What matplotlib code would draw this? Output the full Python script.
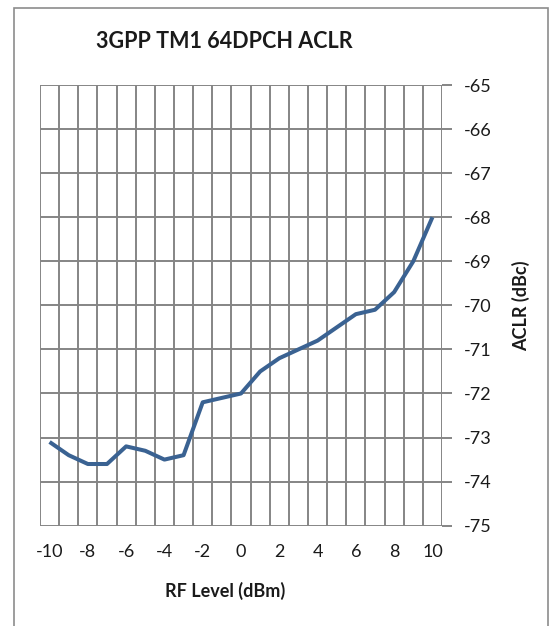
import matplotlib.pyplot as plt
from matplotlib.patches import Rectangle
import numpy as np

# RF level (dBm) and measured ACLR (dBc)
rf_level = [-10, -9, -8, -7, -6, -5, -4, -3, -2, -1, 0,
            1, 2, 3, 4, 5, 6, 7, 8, 9, 10]
aclr = [-73.1, -73.4, -73.6, -73.6, -73.2, -73.3, -73.5, -73.4, -72.2, -72.1, -72.0,
        -71.5, -71.2, -71.0, -70.8, -70.5, -70.2, -70.1, -69.7, -69.0, -68.0]
x_ticks = [-10, -8, -6, -4, -2, 0, 2, 4, 6, 8, 10]
y_ticks = [-75, -74, -73, -72, -71, -70, -69, -68, -67, -66, -65]

plt.rcParams['font.family'] = ['Lato', 'DejaVu Sans']

fig = plt.figure(figsize=(5.6, 6.26), dpi=100)
# outer chart frame
fig.patches.append(Rectangle((14 / 560, -0.05), (548 - 14) / 560, 1.05 - 8 / 626,
                             transform=fig.transFigure, fill=False,
                             edgecolor='#8c8c8c', linewidth=1.2))

ax = fig.add_axes([40 / 560, 1 - 525.7 / 626, (442 - 40) / 560, (525.7 - 85) / 626])

grid_c = '#858585'
# category style vertical grid: boundaries between points
for xb in np.arange(-10.5, 11, 1):
    ax.axvline(xb, color=grid_c, linewidth=1.4, zorder=1)
for yv in y_ticks:
    ax.axhline(yv, color=grid_c, linewidth=1.4, zorder=1)

ax.plot(rf_level, aclr, color='#3a6292', linewidth=2.9, solid_joinstyle='round',
        solid_capstyle='butt', zorder=3)

ax.set_xlim(-10.5, 10.5)
ax.set_ylim(-75, -65)
ax.set_xticks(x_ticks)
ax.set_xticklabels([str(v) for v in x_ticks])
ax.set_yticks(y_ticks)
ax.set_yticklabels([str(v) for v in y_ticks])
ax.yaxis.tick_right()
ax.tick_params(axis='x', length=0, labelsize=13, pad=13, colors='#1a1a1a')
ax.tick_params(axis='y', length=7, width=1.4, color=grid_c, labelsize=13, pad=9,
               labelcolor='#1a1a1a')
for s in ax.spines.values():
    s.set_visible(False)

fig.text(225 / 560, 1 - 591 / 626, 'RF Level (dBm)', ha='center', va='center',
         fontsize=13, fontweight='bold', color='#1a1a1a')
fig.text(521 / 560, 1 - 306 / 626, 'ACLR (dBc)', ha='center', va='center', rotation=90,
         fontsize=13, fontweight='bold', color='#1a1a1a')
fig.text(224 / 560, 1 - 42 / 626, '3GPP TM1 64DPCH ACLR', ha='center', va='center',
         fontsize=15.5, fontweight='bold', color='#1a1a1a')

fig.savefig('out.png', dpi=100)
